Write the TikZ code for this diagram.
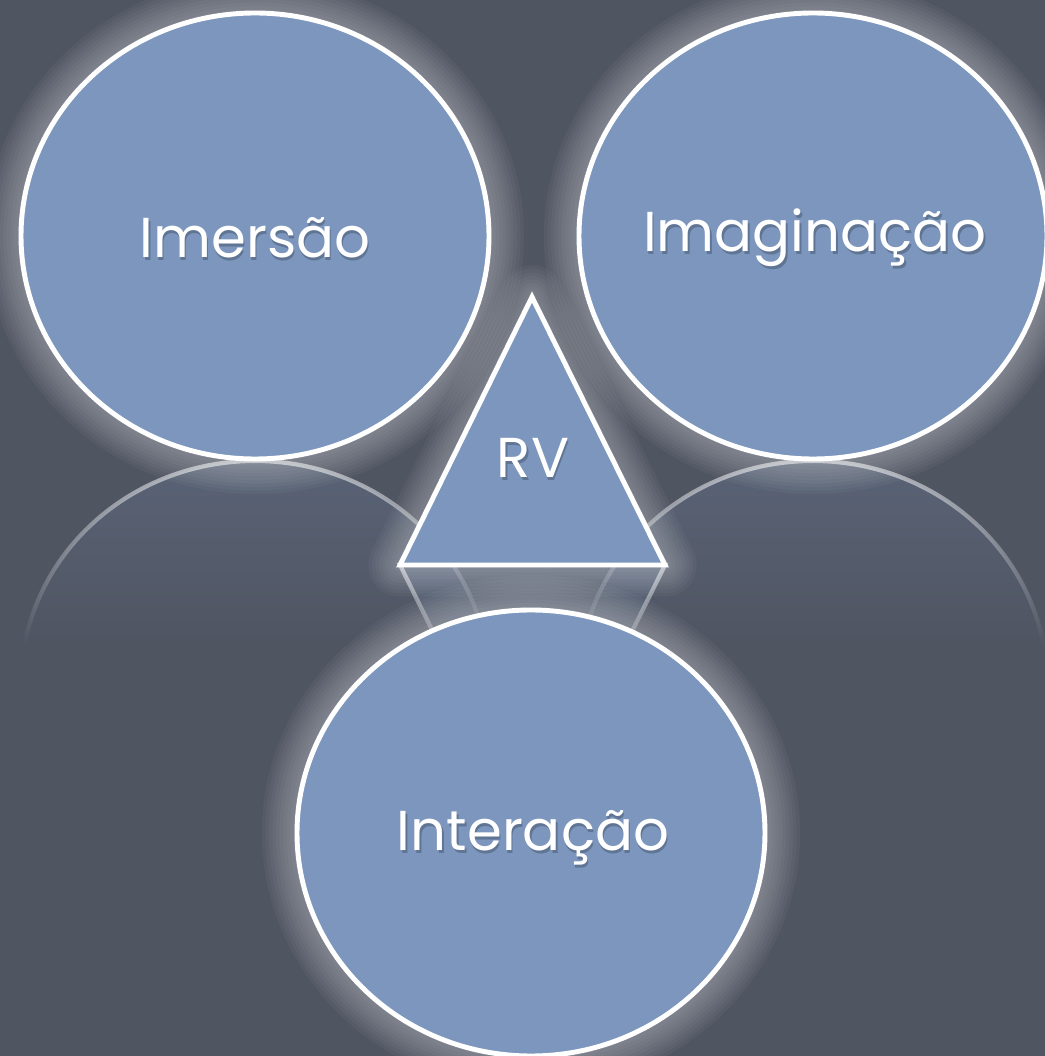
\documentclass[tikz,border=0pt]{standalone}
\usepackage{fontspec}
\setmainfont{Poppins}
\usetikzlibrary{shapes.geometric,fadings}
\definecolor{slate}{RGB}{80,85,98}
\definecolor{bubblefill}{RGB}{124,150,190}
\begin{tikzfadingfrompicture}[name=reflfade]
    \path (-1,-1) rectangle (1,1);
    \shade[top color=transparent!30, bottom color=transparent!100] (-1.2,1.1) rectangle (1.2,0.2);
\end{tikzfadingfrompicture}
\tikzstyle{bubble}=[ellipse,draw=white,line width=1.4pt,fill=bubblefill,minimum width=4.68cm,minimum height=4.46cm,inner sep=0pt]
\tikzstyle{reflection}=[draw=white,line width=1.2pt,fill=bubblefill,fill opacity=0.4,path fading=reflfade,fit fading=true]
\tikzstyle{caption}=[text=white,font=\fontsize{16}{19}\selectfont]
\tikzstyle{caption shadow}=[text=black,opacity=0.22,font=\fontsize{16}{19}\selectfont]

\begin{document}
\begin{tikzpicture}
    \fill[slate] (0,0) rectangle (10.45,10.56);
    \useasboundingbox (0,0) rectangle (10.45,10.56);

    % mirrored shapes on the floor
    \foreach \x in {2.55, 8.13}
        \path[reflection] (\x,3.72) ellipse [x radius=2.34cm, y radius=2.23cm];
    \path[reflection] (4.00,4.91) -- (6.65,4.91) -- (5.32,2.23) -- cycle;

    % soft halo
    \foreach \pos in {(2.55,8.20), (8.13,8.20), (5.31,2.23)}
        \foreach \w in {2,4,...,20}
            \path[draw=white,opacity=0.035,line width=\w pt] \pos ellipse [x radius=2.34cm, y radius=2.23cm];

    \foreach \pos/\name in {{(2.55,8.20)/imersao}, {(8.13,8.20)/imaginacao}, {(5.31,2.23)/interacao}}
        \node[bubble] (\name) at \pos {};

    \coordinate (apex) at (5.32,7.59);
    \coordinate (baseL) at (4.00,4.91);
    \coordinate (baseR) at (6.65,4.91);
    \foreach \w in {2,4,...,18}
        \path[draw=white,opacity=0.035,line width=\w pt,line join=round] (apex) -- (baseR) -- (baseL) -- cycle;
    \draw[white,line width=1.4pt,fill=bubblefill,line join=miter] (apex) -- (baseR) -- (baseL) -- cycle;

    \foreach \x/\y/\name/\txt in {2.55/8.18/imersao/Imersão, 8.15/8.18/imaginacao/Imaginação,
                                  5.33/2.18/interacao/Interação, 5.33/5.98/rv/RV}
    {
        \node[caption shadow] at (\x+0.015,\y-0.03) {\txt};
        \node[caption] (\name-text) at (\x,\y) {\txt};
    }
\end{tikzpicture}
\end{document}
